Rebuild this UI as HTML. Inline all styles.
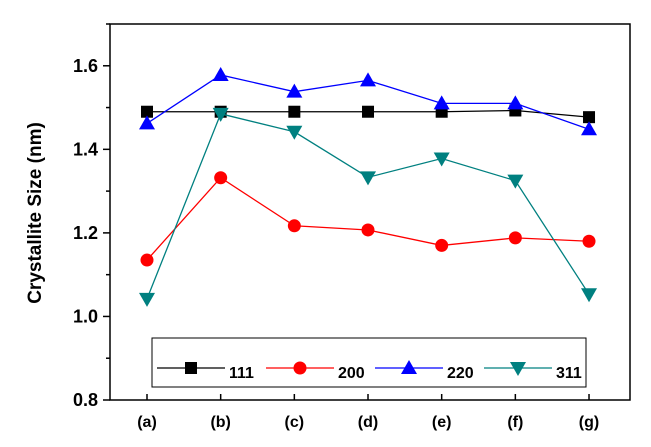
<!DOCTYPE html>
<html><head><meta charset="utf-8"><style>
html,body{margin:0;padding:0;background:#fff;width:651px;height:447px;overflow:hidden}
text{font-family:"Liberation Sans",Arial,sans-serif;font-weight:bold}
</style></head><body>
<svg id="chart" width="651" height="447" viewBox="0 0 651 447" xmlns="http://www.w3.org/2000/svg"></svg>
<script>
const categories=["(a)","(b)","(c)","(d)","(e)","(f)","(g)"];
const s111=[1.49,1.49,1.49,1.49,1.49,1.493,1.477];
const s200=[1.135,1.332,1.217,1.207,1.170,1.188,1.180];
const s220=[1.462,1.578,1.538,1.565,1.510,1.510,1.448];
const s311=[1.042,1.485,1.442,1.333,1.378,1.325,1.053];
const seriesNames=["111","200","220","311"];
const yTicks=[0.8,1.0,1.2,1.4,1.6];
const yMinor=[0.9,1.1,1.3,1.5,1.7];

const svg=document.getElementById('chart');
const NS="http://www.w3.org/2000/svg";
const L=110,R=630,T=24,B=400,yMin=0.8,yMax=1.7;
const x=i=>147+i*73.67;
const y=v=>B-(v-yMin)/(yMax-yMin)*(B-T);
function mk(tag,attrs,parent){const e=document.createElementNS(NS,tag);for(const k in attrs)e.setAttribute(k,attrs[k]);(parent||svg).appendChild(e);return e;}

const frame=mk('rect',{x:L,y:T,width:R-L,height:B-T,fill:'none',stroke:'#000','stroke-width':1.5});



yTicks.forEach(v=>{
  const t=mk('line',{x1:L-7,x2:L,y1:y(v),y2:y(v),stroke:'#000','stroke-width':1.5});
  
  
  const lb=mk('text',{x:L-12,y:y(v)+6,'text-anchor':'end','font-size':18});
  lb.textContent=v.toFixed(1);
  
  
});
yMinor.forEach(v=>{
  const t=mk('line',{x1:L-4,x2:L,y1:y(v),y2:y(v),stroke:'#000','stroke-width':1.5});
  
  
});
categories.forEach((c,i)=>{
  const t=mk('line',{x1:x(i),x2:x(i),y1:B,y2:B-6,stroke:'#000','stroke-width':1.5});
  
  
  const lb=mk('text',{x:x(i),y:B+27,'text-anchor':'middle','font-size':16});
  lb.textContent=c;
  
  
});
const yl=mk('text',{x:0,y:0,transform:'translate(41,213) rotate(-90)','text-anchor':'middle','font-size':19});
yl.textContent='Crystallite Size (nm)';



function marker(type,cx,cy,col,parent){
  let e;
  if(type==='sq')e=mk('rect',{x:cx-6,y:cy-6,width:12,height:12,fill:col},parent);
  else if(type==='ci')e=mk('circle',{cx:cx,cy:cy,r:6.5,fill:col},parent);
  else if(type==='up')e=mk('polygon',{points:`${cx},${cy-8} ${cx-8},${cy+6} ${cx+8},${cy+6}`,fill:col},parent);
  else e=mk('polygon',{points:`${cx},${cy+8} ${cx-8},${cy-6} ${cx+8},${cy-6}`,fill:col},parent);
  return e;
}
const defs=[[s111,'#000','sq','series-111'],[s200,'#ff0000','ci','series-200'],[s220,'#0000ff','up','series-220'],[s311,'#008080','dn','series-311']];
defs.forEach(([vals,col,type,name])=>{
  const g=mk('g',{});
  
  
  const p=mk('polyline',{points:vals.map((v,i)=>x(i)+','+y(v)).join(' '),fill:'none',stroke:col,'stroke-width':1.3},g);
  
  
  vals.forEach((v,i)=>{
    const m=marker(type,x(i),y(v),col,g);
    
    
  });
});

const lg=mk('g',{});


mk('rect',{x:152,y:338,width:434,height:49,fill:'#fff',stroke:'#000','stroke-width':1},lg);
const lx=[157,266,375,484];
defs.forEach(([vals,col,type,name],k)=>{
  const e=mk('g',{},lg);
  
  
  mk('line',{x1:lx[k],x2:lx[k]+68,y1:368,y2:368,stroke:col,'stroke-width':1.3},e);
  marker(type,lx[k]+34,368,col,e);
  const t=mk('text',{x:lx[k]+72,y:378,'font-size':16},e);
  t.textContent=seriesNames[k];
});
</script>
</body></html>
